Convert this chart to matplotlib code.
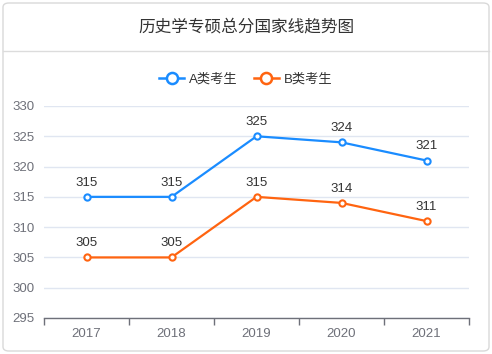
import matplotlib
matplotlib.use('Agg')
import matplotlib.pyplot as plt
from matplotlib.patches import FancyBboxPatch
from matplotlib.lines import Line2D

plt.rcParams['font.family'] = ['Liberation Sans', 'Noto Sans CJK SC', 'DejaVu Sans']

# data
years = ['2017', '2018', '2019', '2020', '2021']
a_scores = [315, 315, 325, 324, 321]
b_scores = [305, 305, 315, 314, 311]
series_names = ['A类考生', 'B类考生']
title = '历史学专硕总分国家线趋势图'

blue = '#1a8cff'
orange = '#ff6410'

fig = plt.figure(figsize=(4.92, 3.54), dpi=100)

# card background with border
card = FancyBboxPatch((3 / 492, 3 / 354), 486 / 492, 348 / 354,
                      boxstyle='round,pad=0,rounding_size=0.012',
                      transform=fig.transFigure, facecolor='white',
                      edgecolor='#d9d9d9', linewidth=1, zorder=-10)
fig.patches.append(card)
fig.add_artist(Line2D([3 / 492, 489 / 492], [1 - 51 / 354, 1 - 51 / 354],
                      transform=fig.transFigure, color='#dcdcdc', linewidth=1, zorder=-5))
fig.text(0.5, 1 - 27 / 354, title, ha='center', va='center', fontsize=12, color='#333333',
         family=['Noto Sans CJK SC', 'DejaVu Sans'])

ax = fig.add_axes([44 / 492, 1 - 318 / 354, 425 / 492, 212 / 354])
ax.patch.set_alpha(0)
x = list(range(len(years)))
for vals, color, name in [(a_scores, blue, series_names[0]), (b_scores, orange, series_names[1])]:
    ax.plot(x, vals, color=color, linewidth=1.6, marker='o', markersize=4.5,
            markerfacecolor='white', markeredgecolor=color, markeredgewidth=1.5,
            label=name, zorder=3)
    for xi, v in zip(x, vals):
        ax.annotate(str(v), (xi, v), xytext=(0, 6), textcoords='offset points',
                    ha='center', va='bottom', fontsize=9.5, color='#333333')

ax.set_xlim(-0.5, len(years) - 0.5)
ax.set_ylim(295, 330)
ax.set_yticks(range(295, 331, 5))
ax.set_xticks([i - 0.5 for i in range(len(years) + 1)], minor=False)
ax.set_xticklabels([])
ax.set_xticks(x, minor=True)
ax.set_xticklabels(years, minor=True)
ax.tick_params(axis='x', which='major', length=5, color='#6e7079', width=1)
ax.tick_params(axis='x', which='minor', length=0, pad=7, labelsize=9.5, labelcolor='#6e7079')
ax.tick_params(axis='y', length=0, pad=7, labelsize=9.5, labelcolor='#6e7079')
ax.grid(axis='y', color='#e0e6f1', linewidth=1)
ax.set_axisbelow(True)
for s in ['top', 'right', 'left']:
    ax.spines[s].set_visible(False)
ax.spines['bottom'].set_color('#6e7079')
ax.spines['bottom'].set_linewidth(1)

handles = [Line2D([], [], color=c, linewidth=1.8, marker='o', markersize=8,
                  markerfacecolor='white', markeredgecolor=c, markeredgewidth=1.8)
           for c in (blue, orange)]
fig.legend(handles, series_names, loc='center', bbox_to_anchor=(0.5, 1 - 79 / 354),
           ncol=2, frameon=False, fontsize=9.5, handlelength=1.9, handletextpad=0.4,
           columnspacing=1.2, labelcolor='#333333')

fig.savefig('out.png', dpi=100)
